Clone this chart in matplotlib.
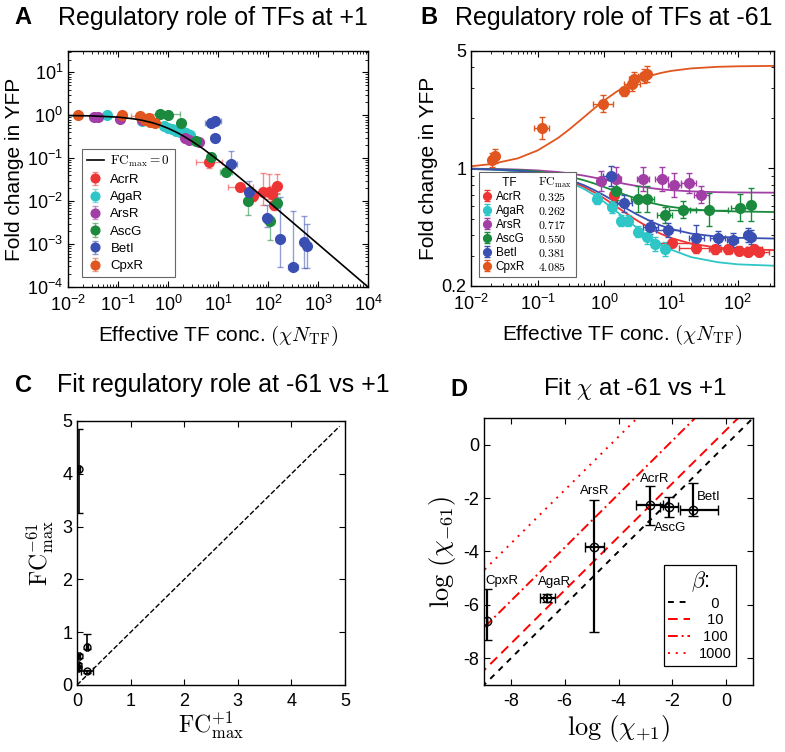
import numpy as np
import matplotlib
matplotlib.use("Agg")
import matplotlib.pyplot as plt
from matplotlib.lines import Line2D
from matplotlib.ticker import FixedLocator, FixedFormatter, LogLocator, NullFormatter

plt.rcParams["font.family"] = ["Liberation Sans", "DejaVu Sans"]
plt.rcParams["mathtext.fontset"] = "cm"
plt.rcParams["axes.unicode_minus"] = False

TF_NAMES = ["AcrR", "AgaR", "ArsR", "AscG", "BetI", "CpxR"]
TF_COLORS = ["#ee3535", "#2ec6c6", "#a23fa6", "#1b8a3e", "#3a4fb2", "#e0561e"]
FC_MAX_61 = [0.325, 0.262, 0.717, 0.550, 0.381, 4.085]

# ---- panel A: promoter +1 (x, y, x error factor, y error factors low/high)
a_x = {
    "AcrR": [6.6, 28, 49, 78, 105, 120, 132, 148],
    "AgaR": [0.06, 0.3, 0.85, 1.0, 1.2, 1.45, 1.7, 2.0, 2.3, 2.7],
    "ArsR": [0.033, 0.04, 0.11, 0.3, 2.2, 2.6, 4.2],
    "AscG": [0.7, 1.0, 1.86, 3.55, 7.3, 14.5, 39, 105, 112, 148],
    "BetI": [7.1, 8.7, 8.7, 18.6, 42, 94, 175, 315, 525, 615],
    "CpxR": [0.016, 0.12, 0.27, 0.35, 0.42, 0.44, 0.54],
}
a_y = {
    "AcrR": [0.082, 0.021, 0.013, 0.0165, 0.0165, 0.015, 0.0081, 0.023],
    "AgaR": [1.0, 0.75, 0.55, 0.5, 0.47, 0.44, 0.42, 0.40, 0.38, 0.35],
    "ArsR": [0.9, 0.92, 0.84, 0.8, 0.3, 0.27, 0.24],
    "AscG": [1.1, 1.04, 0.68, 0.25, 0.107, 0.047, 0.0102, 0.0036, 0.0034, 0.0093],
    "BetI": [0.66, 0.72, 0.29, 0.075, 0.0165, 0.0041, 0.0013, 0.00029, 0.0011, 0.00088],
    "CpxR": [1.0, 1.0, 0.96, 0.77, 0.85, 0.70, 0.68],
}
a_xf = {
    "AcrR": [1.8, 1.8, 1.2, 1.4, 1.2, 1.2, 1.15, 1.1],
    "AgaR": [1.15, 1.2, 1.15, 1.1, 1.1, 1.1, 1.1, 1.1, 1.1, 1.1],
    "ArsR": [1.2, 1.2, 1.2, 1.2, 1.15, 1.15, 1.2],
    "AscG": [2.5, 1.1, 1.2, 1.1, 1.15, 1.3, 1.2, 1.1, 1.1, 1.1],
    "BetI": [1.3, 1.3, 1.2, 1.3, 1.2, 1.15, 1.2, 1.25, 1.1, 1.1],
    "CpxR": [1.1, 1.1, 1.5, 1.2, 1.2, 1.2, 1.15],
}
a_ylo = {
    "AcrR": [1.35, 1.2, 1.3, 2.0, 1.5, 1.5, 1.3, 1.5],
    "AgaR": [1.05, 1.1, 1.1, 1.1, 1.1, 1.1, 1.1, 1.1, 1.1, 1.1],
    "ArsR": [1.1, 1.1, 1.15, 1.1, 1.25, 1.2, 1.15],
    "AscG": [1.05, 1.05, 1.15, 1.1, 1.25, 1.15, 2.1, 1.3, 2.8, 1.3],
    "BetI": [1.15, 1.15, 1.2, 1.2, 1.3, 1.6, 4.4, 1.05, 3.9, 3.1],
    "CpxR": [1.05, 1.05, 1.1, 1.1, 1.1, 1.1, 1.1],
}
a_yhi = {
    "AcrR": [1.35, 1.2, 1.3, 2.8, 2.6, 1.5, 1.6, 1.9],
    "AgaR": [1.05, 1.1, 1.1, 1.1, 1.1, 1.1, 1.1, 1.1, 1.1, 1.1],
    "ArsR": [1.1, 1.1, 1.15, 1.1, 1.25, 1.2, 1.15],
    "AscG": [1.05, 1.05, 1.15, 1.1, 1.25, 1.15, 1.3, 1.3, 1.2, 1.6],
    "BetI": [1.15, 1.15, 1.2, 2.0, 1.8, 2.0, 9.5, 20, 4.2, 3.4],
    "CpxR": [1.05, 1.05, 1.1, 1.1, 1.1, 1.1, 1.1],
}
a_fit_x = [0.01, 0.03, 0.1, 0.2, 0.3, 0.5, 0.7, 1, 1.5, 2, 3, 5, 10, 20, 50, 100, 1000, 10000]
a_fit_y = [0.990, 0.971, 0.909, 0.833, 0.769, 0.667, 0.588, 0.5, 0.4, 0.333, 0.25,
           0.167, 0.0909, 0.0476, 0.0196, 0.0099, 0.000999, 0.0001]

# ---- panel B: promoter -61
b_x = {
    "AcrR": [1.4, 10.2, 24, 45, 72, 105, 145, 178, 210],
    "AgaR": [0.26, 0.78, 1.28, 1.8, 2.27, 3.2, 4.3, 5.7, 8.0],
    "ArsR": [0.9, 1.5, 3.8, 7.2, 11.2, 18.5, 28.5],
    "AscG": [1.5, 3.25, 4.3, 8.0, 15, 37, 110, 158],
    "BetI": [1.25, 2.0, 4.9, 9.0, 24, 50, 84, 145, 160],
    "CpxR": [0.021, 0.023, 0.115, 0.955, 2.0, 2.6, 2.8, 3.9, 4.3],
}
b_y = {
    "AcrR": [0.70, 0.36, 0.335, 0.33, 0.33, 0.325, 0.32, 0.33, 0.32],
    "AgaR": [0.80, 0.66, 0.59, 0.49, 0.49, 0.42, 0.39, 0.355, 0.33],
    "ArsR": [0.84, 0.86, 0.865, 0.87, 0.80, 0.82, 0.70],
    "AscG": [0.73, 0.66, 0.66, 0.53, 0.57, 0.57, 0.585, 0.61],
    "BetI": [0.90, 0.62, 0.45, 0.43, 0.385, 0.385, 0.375, 0.40, 0.39],
    "CpxR": [1.13, 1.19, 1.74, 2.43, 2.88, 3.2, 3.4, 3.55, 3.65],
}
b_xf = {
    "AcrR": [1.15, 2.0, 1.8, 1.2, 1.3, 1.3, 1.3, 1.3, 1.4],
    "AgaR": [1.15, 1.1, 1.1, 1.1, 1.1, 1.1, 1.1, 1.1, 1.1],
    "ArsR": [1.15, 1.2, 1.25, 1.25, 1.25, 1.3, 1.3],
    "AscG": [1.2, 1.3, 1.3, 1.3, 1.6, 1.9, 1.4, 1.1],
    "BetI": [1.3, 1.3, 1.3, 1.5, 1.3, 1.3, 1.2, 1.1, 1.1],
    "CpxR": [1.1, 1.1, 1.3, 1.4, 1.15, 1.3, 1.2, 1.2, 1.1],
}
b_yf = {
    "AcrR": [1.1, 1.06, 1.06, 1.06, 1.06, 1.06, 1.06, 1.06, 1.06],
    "AgaR": [1.1, 1.08, 1.08, 1.08, 1.08, 1.08, 1.1, 1.1, 1.1],
    "ArsR": [1.15, 1.18, 1.18, 1.18, 1.18, 1.15, 1.12],
    "AscG": [1.12, 1.2, 1.2, 1.12, 1.12, 1.25, 1.2, 1.25],
    "BetI": [1.15, 1.12, 1.1, 1.1, 1.2, 1.1, 1.1, 1.1, 1.1],
    "CpxR": [1.1, 1.1, 1.16, 1.12, 1.06, 1.1, 1.1, 1.1, 1.12],
}
b_fit_x = [0.01, 0.02, 0.05, 0.1, 0.2, 0.3, 0.5, 0.7, 1, 1.5, 2, 3, 5, 7, 10, 20, 50, 100, 350]
b_fit_y = {
    "AcrR": [0.993, 0.987, 0.968, 0.939, 0.887, 0.844, 0.775, 0.722, 0.663, 0.595,
             0.550, 0.494, 0.438, 0.409, 0.386, 0.357, 0.338, 0.332, 0.327],
    "AgaR": [0.993, 0.985, 0.965, 0.933, 0.877, 0.830, 0.754, 0.696, 0.631, 0.557,
             0.508, 0.447, 0.385, 0.354, 0.329, 0.297, 0.277, 0.269, 0.264],
    "ArsR": [0.997, 0.994, 0.986, 0.974, 0.953, 0.935, 0.906, 0.883, 0.859, 0.830,
             0.811, 0.788, 0.764, 0.752, 0.743, 0.731, 0.723, 0.720, 0.718],
    "AscG": [0.996, 0.991, 0.979, 0.959, 0.925, 0.896, 0.850, 0.815, 0.775, 0.730,
             0.700, 0.663, 0.625, 0.606, 0.591, 0.571, 0.559, 0.555, 0.551],
    "BetI": [0.994, 0.988, 0.970, 0.944, 0.897, 0.857, 0.794, 0.745, 0.691, 0.629,
             0.587, 0.536, 0.484, 0.458, 0.437, 0.410, 0.393, 0.387, 0.383],
    "CpxR": [1.031, 1.062, 1.148, 1.281, 1.514, 1.712, 2.028, 2.271, 2.543, 2.851,
             3.057, 3.314, 3.571, 3.699, 3.805, 3.938, 4.025, 4.054, 4.076],
}

# ---- panel C: fitted FCmax at +1 vs -61 (order of TF_NAMES)
c_fc_p1 = [0.02, 0.19, 0.19, 0.03, 0.02, 0.03]
c_fc_p1_err = [0.02, 0.11, 0.02, 0.02, 0.02, 0.02]
c_fc_m61_lo = [0.04, 0.03, 0.04, 0.03, 0.04, 0.83]
c_fc_m61_hi = [0.04, 0.03, 0.25, 0.03, 0.04, 0.76]

# ---- panel D: fitted log(chi) at +1 vs -61
d_names = ["CpxR", "AgaR", "ArsR", "AcrR", "AscG", "BetI"]
d_x = [-8.88, -6.65, -4.9, -2.84, -2.13, -1.23]
d_y = [-6.6, -5.73, -3.83, -2.27, -2.35, -2.45]
d_xlo = [0.0, 0.28, 0.35, 0.5, 0.33, 0.47]
d_xhi = [0.0, 0.28, 0.35, 0.5, 0.33, 0.93]
d_ylo = [0.72, 0.15, 3.17, 0.73, 0.35, 0.22]
d_yhi = [1.2, 0.15, 1.75, 0.71, 0.4, 1.03]
d_betas = ["0", "10", "100", "1000"]
d_beta_offsets = [0.0, 0.55, 2.15, 4.3]

D_LABEL_POS = [(-8.95, -5.1), (-7.0, -5.13), (-5.45, -1.75),
               (-3.2, -1.3), (-2.7, -3.12), (-1.08, -1.95)]
# padding so the beta labels sit centred like the original legend
D_LABEL_PAD = ["\u2007 ", "\u2007", " ", ""]


def style_box(ax):
    ax.tick_params(which="both", direction="in", top=True, right=True, labelsize=13)
    ax.tick_params(which="major", length=4)
    ax.tick_params(which="minor", length=2)
    ax.tick_params(axis="x", pad=6)
    for s in ax.spines.values():
        s.set_linewidth(1.0)


def log_err(vals, lo_f, hi_f):
    v = np.asarray(vals, dtype=float)
    return [v - v / np.asarray(lo_f), v * np.asarray(hi_f) - v]


fig = plt.figure(figsize=(7.85, 7.52), dpi=100)

# ------------------------------------------------ A
axA = fig.add_axes([0.0866, 0.6184, 0.3822, 0.3138])
axA.set_xscale("log")
axA.set_yscale("log")
fit_line, = axA.plot(a_fit_x, a_fit_y, color="k", lw=1.2, zorder=5)
handles_a = []
for name, col in zip(TF_NAMES, TF_COLORS):
    cont = axA.errorbar(
        a_x[name], a_y[name],
        xerr=log_err(a_x[name], a_xf[name], a_xf[name]),
        yerr=log_err(a_y[name], a_ylo[name], a_yhi[name]),
        fmt="o", ms=7, color=col, ecolor=matplotlib.colors.to_rgba(col, 0.55),
        elinewidth=1.0, capsize=2.5, zorder=3,
    )
    cont.has_xerr = False
    handles_a.append(cont)
axA.set_xlim(1e-2, 1e4)
axA.set_ylim(1e-4, 10 ** 1.5)
axA.xaxis.set_major_locator(LogLocator(base=10, numticks=10))
axA.xaxis.set_minor_locator(LogLocator(base=10, subs=np.arange(2, 10), numticks=20))
axA.yaxis.set_major_locator(LogLocator(base=10, numticks=10))
axA.yaxis.set_minor_locator(LogLocator(base=10, subs=np.arange(2, 10), numticks=20))
axA.xaxis.set_minor_formatter(NullFormatter())
axA.yaxis.set_minor_formatter(NullFormatter())
style_box(axA)
axA.set_ylabel("Fold change in YFP", fontsize=15, labelpad=2)
axA.set_xlabel(r"Effective TF conc. $(\chi N_{\mathrm{TF}})$", fontsize=15, labelpad=6)
legA = axA.legend(
    [fit_line] + handles_a,
    [r"$\mathrm{FC}_{\max}=0$"] + TF_NAMES,
    loc="lower left", bbox_to_anchor=(0.025, 0.015), fontsize=9.5,
    handlelength=1.3, handletextpad=0.5, labelspacing=0.38, markerscale=0.9,
    fancybox=False, edgecolor="0.4", framealpha=1, borderpad=0.35,
)
legA.get_frame().set_linewidth(0.8)

# ------------------------------------------------ B
axB = fig.add_axes([0.6000, 0.6197, 0.3860, 0.3125])
axB.set_xscale("log")
axB.set_yscale("log")
handles_b = []
for name, col in zip(TF_NAMES, TF_COLORS):
    axB.plot(b_fit_x, b_fit_y[name], color=col, lw=1.3, zorder=2)
    cont = axB.errorbar(
        b_x[name], b_y[name],
        xerr=log_err(b_x[name], b_xf[name], b_xf[name]),
        yerr=log_err(b_y[name], b_yf[name], b_yf[name]),
        fmt="o", ms=7, color=col, elinewidth=1.0, capsize=2.5, zorder=3,
    )
    cont.has_xerr = False
    handles_b.append(cont)
axB.set_xlim(1e-2, 350)
axB.set_ylim(0.2, 5)
axB.xaxis.set_major_locator(LogLocator(base=10, numticks=10))
axB.xaxis.set_minor_locator(LogLocator(base=10, subs=np.arange(2, 10), numticks=20))
axB.xaxis.set_minor_formatter(NullFormatter())
axB.yaxis.set_major_locator(FixedLocator([0.2, 1, 5]))
axB.yaxis.set_major_formatter(FixedFormatter(["0.2", "1", "5"]))
axB.yaxis.set_minor_locator(LogLocator(base=10, subs=np.arange(2, 10), numticks=20))
axB.yaxis.set_minor_formatter(NullFormatter())
style_box(axB)
axB.set_ylabel("Fold change in YFP", fontsize=15, labelpad=2)
axB.set_xlabel(r"Effective TF conc. $(\chi N_{\mathrm{TF}})$", fontsize=15, labelpad=6)
blank = Line2D([], [], linestyle="none")
legB = axB.legend(
    [blank] + handles_b + [blank] * 7,
    ["  TF"] + TF_NAMES + [r"$\mathrm{FC}_{\max}$"] + [f"${v:.3f}$" for v in FC_MAX_61],
    ncol=2, loc="lower left", bbox_to_anchor=(0.008, 0.012), fontsize=8.5,
    handlelength=0.75, handletextpad=0.35, labelspacing=0.17, columnspacing=0.0,
    markerscale=0.8, fancybox=False, edgecolor="0.4", framealpha=1, borderpad=0.3,
)
legB.get_frame().set_linewidth(0.8)

# ------------------------------------------------ C
axC = fig.add_axes([0.0981, 0.0891, 0.3414, 0.3511])
axC.plot([0, 4.9], [0, 4.9], "k--", lw=1.0)
axC.errorbar(c_fc_p1, FC_MAX_61, xerr=c_fc_p1_err, yerr=[c_fc_m61_lo, c_fc_m61_hi],
             fmt="o", ms=5, mfc="none", mec="k", color="k", elinewidth=1.2, capsize=3)
axC.set_xlim(0, 5)
axC.set_ylim(0, 5)
axC.set_xticks(range(6))
axC.set_yticks(range(6))
style_box(axC)
axC.set_xlabel(r"$\mathrm{FC}^{+1}_{\max}$", fontsize=17, labelpad=0)
axC.set_ylabel(r"$\mathrm{FC}^{-61}_{\max}$", fontsize=17)

# ------------------------------------------------ D
axD = fig.add_axes([0.6166, 0.0891, 0.3427, 0.3551])
line_styles = [("k", (0, (3, 3))), ("r", (0, (5, 3))), ("r", (0, (5, 2, 1, 2))), ("r", (0, (1, 3)))]
for beta, pad, off, (col, ls) in zip(d_betas, D_LABEL_PAD, d_beta_offsets, line_styles):
    axD.plot([-10, 2], [-10 + off, 2 + off], color=col, linestyle=ls, lw=1.4, label=pad + beta)
axD.errorbar(d_x, d_y, xerr=[d_xlo, d_xhi], yerr=[d_ylo, d_yhi], fmt="o", ms=6,
             mfc="none", mec="k", color="k", elinewidth=1.6, capsize=3.5, zorder=4)
for name, (lx, ly) in zip(d_names, D_LABEL_POS):
    axD.text(lx, ly, name, fontsize=9.5, ha="left", va="center")
axD.set_xlim(-9, 1)
axD.set_ylim(-9, 1)
axD.set_xticks([-8, -6, -4, -2, 0])
axD.set_yticks([-8, -6, -4, -2, 0])
style_box(axD)
axD.set_xlabel(r"$\log\,(\chi_{+1})$", fontsize=19, labelpad=2)
axD.set_ylabel(r"$\log\,(\chi_{-61})$", fontsize=19)
legD = axD.legend(loc="lower right", bbox_to_anchor=(0.965, 0.045), title=r"$\beta$:",
                  fontsize=10.5, title_fontsize=16, handlelength=1.5, handletextpad=0.6,
                  labelspacing=0.2, fancybox=False, edgecolor="k", framealpha=1,
                  borderpad=0.3)
legD.get_frame().set_linewidth(0.9)

# ------------------------------------------------ panel titles
titles = [
    (14, 58, 18, "A", "Regulatory role of TFs at +1", 18),
    (420, 455, 18, "B", "Regulatory role of TFs at -61", 18),
    (15, 57, 385, "C", "Fit regulatory role at -61 vs +1", 18),
    (450, 543, 389, "D", r"Fit $\chi$ at -61 vs +1", 17.5),
]
for lx, tx, ty, letter, text, fs in titles:
    fig.text(lx / 785, 1 - ty / 752, letter, fontsize=17, fontweight="bold", va="center")
    fig.text(tx / 785, 1 - ty / 752, text, fontsize=fs, va="center")

fig.savefig("out.png", dpi=100)
